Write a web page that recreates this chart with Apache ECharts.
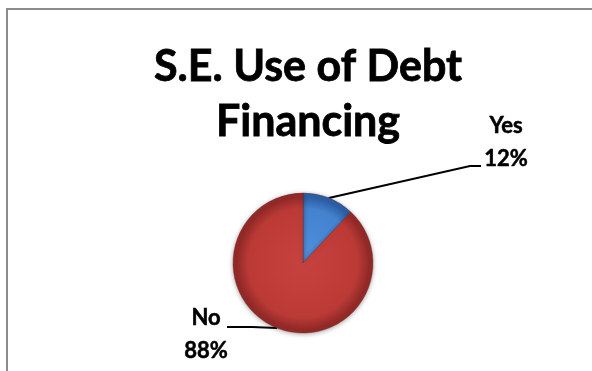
<!DOCTYPE html>
<html>
<head>
<meta charset="utf-8">
<script src="https://cdn.jsdelivr.net/npm/echarts@6/dist/echarts.min.js"></script>
<style>
  html, body { margin: 0; padding: 0; background: #ffffff; }
  #chart { position: absolute; left: 0; top: 0; width: 592px; height: 371px; }
  #frame { position: absolute; left: 6px; top: 8px; right: 0; bottom: 0;
           border-top: 2px solid #8c8c8c; border-left: 2px solid #8c8c8c;
           pointer-events: none; }
</style>
</head>
<body>
<div id="chart"></div>
<div id="frame"></div>
<script>
// Survey answers and their shares (%)
const categories = ['Yes', 'No'];
const shares = [12, 88];

const chartTitle = 'S.E. Use of Debt\nFinancing';

// Pie placement (fractions of the canvas) and radius in px
const pieCenter = [0.5118, 0.709];
const pieRadius = 70;

// Shaded fills for each slice: [centre, body, rim]
const sliceShades = [
  ['#5291de', '#4482cf', '#2d5fa6'],
  ['#c6423e', '#bc3a36', '#932a28']
];

const el = document.getElementById('chart');
const chart = echarts.init(el, null, { renderer: 'canvas' });
const W = chart.getWidth(), H = chart.getHeight();
const cx = W * pieCenter[0], cy = H * pieCenter[1];

function shadedFill(s) {
  return {
    type: 'radial', x: cx, y: cy, r: pieRadius, global: true,
    colorStops: [
      { offset: 0, color: s[0] },
      { offset: 0.78, color: s[1] },
      { offset: 0.94, color: s[2] },
      { offset: 1, color: s[2] }
    ]
  };
}

const data = categories.map((name, i) => ({
  name: name,
  value: shares[i],
  itemStyle: { color: shadedFill(sliceShades[i]) }
}));

// Where each label block sits, and the elbow of its leader line
const labelSpots = {
  Yes: { x: 506, y: 142, elbow: [470, 166], end: [481, 166] },
  No:  { x: 206, y: 334, elbow: [252, 327], end: [227, 327] }
};

chart.setOption({
  animation: false,
  title: {
    text: chartTitle,
    left: cx,
    top: 35,
    textAlign: 'center',
    textStyle: {
      fontFamily: 'Lato',
      fontWeight: 'bold',
      fontSize: 43,
      lineHeight: 55,
      color: '#000000',
      textBorderColor: '#000000',
      textBorderWidth: 0.8
    }
  },
  series: [{
    type: 'pie',
    center: [(pieCenter[0] * 100) + '%', (pieCenter[1] * 100) + '%'],
    radius: pieRadius,
    startAngle: 90,
    clockwise: true,
    data: data,
    itemStyle: {
      borderColor: 'rgba(110,30,30,0.45)',
      borderWidth: 0.8,
      shadowBlur: 5,
      shadowColor: 'rgba(0,0,0,0.35)',
      shadowOffsetY: 1
    },
    label: {
      show: true,
      position: 'outside',
      formatter: p => p.name + '\n' + p.value + '%',
      fontFamily: 'Lato',
      fontWeight: 'bold',
      fontSize: 22,
      lineHeight: 33,
      color: '#000000',
      textBorderColor: '#000000',
      textBorderWidth: 0.5,
      align: 'center'
    },
    labelLine: {
      show: true,
      lineStyle: { color: '#000000', width: 2 }
    },
    labelLayout: function (params) {
      const name = categories[params.dataIndex];
      const spot = labelSpots[name];
      const start = params.labelLinePoints ? params.labelLinePoints[0] : [cx, cy];
      return {
        x: spot.x,
        y: spot.y,
        align: 'center',
        verticalAlign: 'middle',
        labelLinePoints: [start, spot.elbow, spot.end]
      };
    }
  }]
});
</script>
</body>
</html>
